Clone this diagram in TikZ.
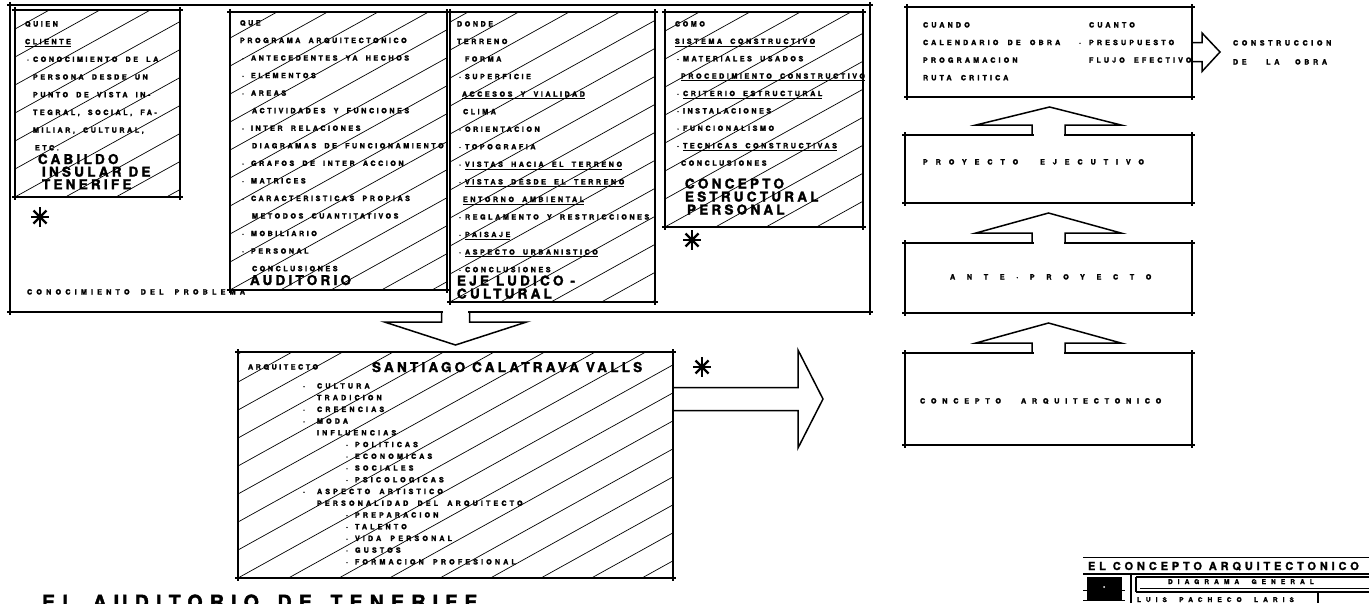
\documentclass[tikz,border=0pt]{standalone}
\usepackage{fontspec}
\usetikzlibrary{calc}

% Lettering: heavy, widely tracked grotesque capitals
\newfontfamily\hsmall{TeX Gyre Heros}[LetterSpace=35,WordSpace=1.8,BoldFeatures={FakeBold=2}]
\newfontfamily\hlist{TeX Gyre Heros}[LetterSpace=43,WordSpace=1.8,BoldFeatures={FakeBold=2}]
\newfontfamily\hframe{TeX Gyre Heros}[LetterSpace=58,WordSpace=1.8,BoldFeatures={FakeBold=2}]
\newfontfamily\hwideA{TeX Gyre Heros}[LetterSpace=110,WordSpace=1.8,BoldFeatures={FakeBold=2}]
\newfontfamily\hwideB{TeX Gyre Heros}[LetterSpace=162,BoldFeatures={FakeBold=2}]
\newfontfamily\hwideC{TeX Gyre Heros}[LetterSpace=80,WordSpace=1.8,BoldFeatures={FakeBold=2}]
\newfontfamily\hwideD{TeX Gyre Heros}[LetterSpace=50,BoldFeatures={FakeBold=2}]
\newfontfamily\hbig{TeX Gyre Heros}[LetterSpace=24,BoldFeatures={FakeBold=2}]
\newfontfamily\htitle{TeX Gyre Heros}[LetterSpace=37,BoldFeatures={FakeBold=2}]
\newfontfamily\hsheet{TeX Gyre Heros}[LetterSpace=35,BoldFeatures={FakeBold=1.6}]
\newfontfamily\hsheetsm{TeX Gyre Heros}[LetterSpace=76,WordSpace=1.8,BoldFeatures={FakeBold=1.6}]

\newcommand\fsmall{\hsmall\bfseries\fontsize{7.2}{17.55}\selectfont}
\newcommand\fquien{\hsmall\bfseries\fontsize{7.2}{17.7}\selectfont}
\newcommand\fcomo{\hsmall\bfseries\fontsize{7.2}{17.4}\selectfont}
\newcommand\flist{\hlist\bfseries\fontsize{7.2}{11.73}\selectfont}
\newcommand\fcol{\hlist\bfseries\fontsize{7.2}{17.6}\selectfont}
\newcommand\fframe{\hframe\bfseries\fontsize{7.2}{8}\selectfont}
\newcommand\fbig{\hbig\bfseries\fontsize{13.5}{12.6}\selectfont}
\newcommand\ftitle{\htitle\bfseries\fontsize{19.5}{20}\selectfont}
\newcommand\fsheet{\hsheet\bfseries\fontsize{11}{12}\selectfont}
\newcommand\fsheetsm{\hsheetsm\bfseries\fontsize{6.6}{7}\selectfont}

% list helpers: bullet cell, blank indent, heavy underline
\newcommand\bu[1]{\makebox[#1][l]{\hspace{2pt}·}}
\newcommand\nb[1]{\hspace*{#1}}
\newcommand\ulx[1]{\leavevmode\setbox0\hbox{#1}\rlap{\rule[-2.6pt]{\wd0}{0.9pt}}\box0}

% four sides of a box, each running a little past the corners
\newcommand\sides[2][]{%
  \draw[sideline,#1] (#2.north west) -- (#2.north east);
  \draw[sideline,#1] (#2.south west) -- (#2.south east);
  \draw[sideline,#1] (#2.north west) -- (#2.south west);
  \draw[sideline,#1] (#2.north east) -- (#2.south east);}

% hollow upward block arrow from the top of #1 towards the bottom of #2
\newcommand\uparrowbox[2]{%
  \fill[white] ($(#1.north)+(-15,-3)$) rectangle ($(#1.north)+(15,3)$);
  \draw[blockarrow] ($(#1.north)+(-16.5,0)$) -- ++(0,-10) -- ++(-56,0)
     -- ($(#2.south)+(0,10)$) -- ($(#1.north)+(72.5,-10)$) -- ++(-56,0)
     -- ($(#1.north)+(16.5,0)$);}

\tikzset{
  sideline/.style={line width=1.8pt, shorten <=-3pt, shorten >=-3pt},
  hatchline/.style={line width=0.7pt},
  hatched/.style={path picture={%
    \foreach \k in {-12,...,10}{%
      \draw[hatchline] ($(path picture bounding box.south west)+(\k*50.5,0)$) -- ++(29:1000pt);
    }}},
  hbox/.style={hatched, inner sep=0pt, outer sep=0pt, anchor=north west},
  pbox/.style={inner sep=0pt, outer sep=0pt, anchor=north west},
  txt/.style={inner sep=0pt, outer sep=0pt, anchor=base west},
  blockarrow/.style={line width=1.5pt, line join=miter},
  asterisk/.pic={
    \draw[line width=2.8pt] (-9,0) -- (9,0) (0,-10) -- (0,10);
    \draw[line width=2.2pt] (-6.5,-6.5) -- (6.5,6.5) (-6.5,6.5) -- (6.5,-6.5);
    \fill (0,0) circle (3.6pt);
  },
}

\begin{document}
\begin{tikzpicture}[x=1pt,y=-1pt]
\fill[white] (0,0) rectangle (1369,603);
\useasboundingbox (0,0) rectangle (1369,603);

% ---------- knowledge of the problem ----------
\node[pbox, minimum width=860pt, minimum height=307pt] (prob) at (10,5) {};
\sides{prob}
\node[txt] (probtxt) at (27,294.5) {\fframe CONOCIMIENTO DEL PROBLEMA};

% who
\node[hbox, minimum width=165pt, minimum height=187pt] (quien) at (15,10) {};
\sides[line width=2.6pt]{quien}
\node[txt] (quientxt) at (25,26.5) {\parbox[t]{160pt}{\fquien
QUIEN\\
\ulx{CLIENTE}\\
\bu{8pt}CONOCIMIENTO DE LA\\
\nb{8pt}PERSONA DESDE UN\\
\nb{8pt}PUNTO DE VISTA IN-\\
\nb{8pt}TEGRAL, SOCIAL, FA-\\
\nb{8pt}MILIAR, CULTURAL,\\
\nb{10pt}ETC.}};
\node[txt] (quienbig) at (38,164) {\parbox[t]{160pt}{\fbig
CABILDO\\
\nb{4pt}INSULAR DE\\
\nb{4pt}TENERIFE}};
\pic at (40,217) {asterisk};

% what
\node[hbox, minimum width=217pt, minimum height=278pt] (que) at (230,12) {};
\sides[line width=2.6pt]{que}
\node[txt] (quetxt) at (240,25.5) {\parbox[t]{260pt}{\fsmall
QUE\\
PROGRAMA ARQUITECTONICO\\
\bu{11pt}ANTECEDENTES YA HECHOS\\
\bu{11pt}ELEMENTOS\\
\bu{11pt}AREAS\\
\nb{12pt}ACTIVIDADES Y FUNCIONES\\
\bu{11pt}INTER RELACIONES\\
\nb{12pt}DIAGRAMAS DE FUNCIONAMIENTO\\
\bu{11pt}GRAFOS DE INTER ACCION\\
\bu{11pt}MATRICES\\
\bu{11pt}CARACTERISTICAS PROPIAS\\
\nb{12pt}METODOS CUANTITATIVOS\\
\bu{11pt}MOBILIARIO\\
\bu{11pt}PERSONAL\\
\nb{12pt}CONCLUSIONES}};
\node[txt] (quebig) at (250,285) {\fbig AUDITORIO};

% where
\node[hbox, minimum width=205pt, minimum height=290pt] (donde) at (450,12) {};
\sides[line width=2.6pt]{donde}
\node[txt] (dondetxt) at (457,26.5) {\parbox[t]{260pt}{\fsmall
DONDE\\
TERRENO\\
\nb{8pt}FORMA\\
\bu{8pt}SUPERFICIE\\
\nb{5pt}\ulx{ACCESOS Y VIALIDAD}\\
\nb{6pt}CLIMA\\
\bu{8pt}ORIENTACION\\
\bu{8pt}TOPOGRAFIA\\
\bu{8pt}\ulx{VISTAS HACIA EL TERRENO}\\
\bu{8pt}\ulx{VISTAS DESDE EL TERRENO}\\
\nb{6pt}\ulx{ENTORNO AMBIENTAL}\\
\bu{8pt}REGLAMENTO Y RESTRICCIONES\\
\bu{8pt}\ulx{PAISAJE}\\
\bu{8pt}\ulx{ASPECTO URBANISTICO}\\
\bu{8pt}CONCLUSIONES}};
\node[txt] (dondebig) at (457,285.5) {\parbox[t]{200pt}{\fbig\baselineskip=13pt
EJE LUDICO -\\
CULTURAL}};

% how
\node[hbox, minimum width=198pt, minimum height=215pt] (como) at (665,12) {};
\sides[line width=2.6pt]{como}
\node[txt] (comotxt) at (675,26.5) {\parbox[t]{260pt}{\fcomo
COMO\\
\ulx{SISTEMA CONSTRUCTIVO}\\
\bu{8pt}MATERIALES USADOS\\
\nb{6pt}\ulx{PROCEDIMIENTO CONSTRUCTIVO}\\
\bu{8pt}\ulx{CRITERIO ESTRUCTURAL}\\
\bu{8pt}INSTALACIONES\\
\bu{8pt}FUNCIONALISMO\\
\bu{8pt}\ulx{TECNICAS CONSTRUCTIVAS}\\
\nb{6pt}CONCLUSIONES}};
\node[txt] (comobig) at (685,188.5) {\parbox[t]{200pt}{\fbig\baselineskip=13pt
CONCEPTO\\
ESTRUCTURAL\\
\nb{2pt}PERSONAL}};
\pic at (692,240) {asterisk};

% ---------- the architect ----------
\node[hbox, minimum width=435pt, minimum height=226pt] (arq) at (238,352) {};
\sides[line width=2.6pt]{arq}
\node[txt] (arqlbl) at (248,369.5) {\fsmall ARQUITECTO};
\node[txt] (arqname) at (372,372) {\fbig SANTIAGO CALATRAVA VALLS};
\node[txt] (arqtxt) at (301,388.5) {\parbox[t]{300pt}{\flist
\bu{16pt}CULTURA\\
\nb{16pt}TRADICION\\
\bu{16pt}CREENCIAS\\
\bu{16pt}MODA\\
\nb{16pt}INFLUENCIAS\\
\nb{43pt}\bu{11pt}POLITICAS\\
\nb{43pt}\bu{11pt}ECONOMICAS\\
\nb{43pt}\bu{11pt}SOCIALES\\
\nb{43pt}\bu{11pt}PSICOLOGICAS\\
\bu{16pt}ASPECTO ARTISTICO\\
\nb{16pt}PERSONALIDAD DEL ARQUITECTO\\
\nb{43pt}\bu{11pt}PREPARACION\\
\nb{43pt}\bu{11pt}TALENTO\\
\nb{43pt}\bu{11pt}VIDA PERSONAL\\
\nb{43pt}\bu{11pt}GUSTOS\\
\nb{43pt}\bu{11pt}FORMACION PROFESIONAL}};
\pic at (702,367) {asterisk};

% ---------- design stages ----------
\node[pbox, minimum width=285pt, minimum height=90pt] (cuando) at (907,7) {};
\sides{cuando}
\node[txt] (cuandotxt) at (923,27.5) {\parbox[t]{150pt}{\fcol
CUANDO\\
CALENDARIO DE OBRA\\
PROGRAMACION\\
RUTA CRITICA}};
\node[txt] (cuantotxt) at (1077,27.5) {\parbox[t]{150pt}{\fcol
\nb{12pt}CUANTO\\
\bu{12pt}PRESUPUESTO\\
\nb{12pt}FLUJO EFECTIVO}};

\node[txt] (constr) at (1233,45.5) {\parbox[t]{130pt}{\hwideD\bfseries\fontsize{7.2}{19}\selectfont
CONSTRUCCION\\
DE\hspace{14pt} LA\hspace{10pt} OBRA}};

\node[pbox, minimum width=287pt, minimum height=68pt] (proy) at (905,135) {};
\sides{proy}
\node[txt] (proytxt) at (923,164.5) {\hwideA\bfseries\fontsize{7.2}{8}\selectfont PROYECTO\hspace{4pt} EJECUTIVO};

\node[pbox, minimum width=287pt, minimum height=70pt] (ante) at (905,243) {};
\sides{ante}
\node[txt] (antetxt) at (950,279.5) {\hwideB\bfseries\fontsize{7.2}{8}\selectfont ANTE·PROYECTO};

\node[pbox, minimum width=287pt, minimum height=92pt] (conc) at (905,353) {};
\sides{conc}
\node[txt] (conctxt) at (920,403.5) {\hwideC\bfseries\fontsize{7.2}{8}\selectfont CONCEPTO\hspace{6pt} ARQUITECTONICO};

% ---------- block arrows ----------
\uparrowbox{conc}{ante}
\uparrowbox{ante}{proy}
\uparrowbox{proy}{cuando}

\draw[blockarrow] ($(cuando.east)+(0,-9.5)$) -- ++(10,0) -- ++(0,-9.5)
   -- ($(constr.west |- cuando.east)+(-13,0)$) -- ($(cuando.east)+(10,19.5)$)
   -- ++(0,-10) -- ++(-10,0);

\coordinate (dn) at (prob.south -| arq.north);
\fill[white] ($(dn)+(-12.5,-3)$) rectangle ($(dn)+(12.5,3)$);
\draw[blockarrow] ($(dn)+(-14,0)$) -- ++(0,10) -- ++(-57,0)
   -- ($(arq.north)+(0,-7)$) -- ($(dn)+(71,10)$) -- ++(-57,0) -- ($(dn)+(14,0)$);

\coordinate (rt) at (arq.east |- conc.west);
\draw[blockarrow] ($(rt)+(0,-11.5)$) -- ++(125,0) -- ++(0,-37.5)
   -- ($(conc.west)+(-82,0)$) -- ($(rt)+(125,49)$) -- ++(0,-37.5) -- ++(-125,0);

% ---------- title ----------
\node[txt] (title) at (42,609) {\ftitle EL\hspace{6pt} AUDITORIO\hspace{6pt} DE\hspace{6pt} TENERIFE};

% ---------- sheet title block ----------
\draw[line width=1pt] (1083,557) -- (1369,557);
\node[txt] (sheettitle) at (1088,570) {\fsheet EL CONCEPTO ARQUITECTONICO};
\draw[line width=1.8pt] (1083,574) -- (1369,574);
\fill (1087,577) rectangle (1122,600);
\fill[white] (1104,587) circle (1pt);
\draw[line width=2pt] (1131,574) -- (1131,603);
\draw[line width=1.4pt] (1136,577) -- (1136,592) (1136,577) -- (1369,577);
\node[txt] (sheetsub) at (1168,584) {\fsheetsm DIAGRAMA GENERAL};
\draw[line width=0.6pt] (1140,588) -- (1369,588);
\draw[line width=1.4pt] (1136,592) -- (1369,592);
\draw[line width=2pt] (1318,592) -- (1318,603);
\draw[line width=1pt] (1083,590) -- (1125,590) (1083,600) -- (1125,600);
\node[txt] (author) at (1137,602) {\fsheetsm LUIS PACHECO LARIS};
\end{tikzpicture}
\end{document}
